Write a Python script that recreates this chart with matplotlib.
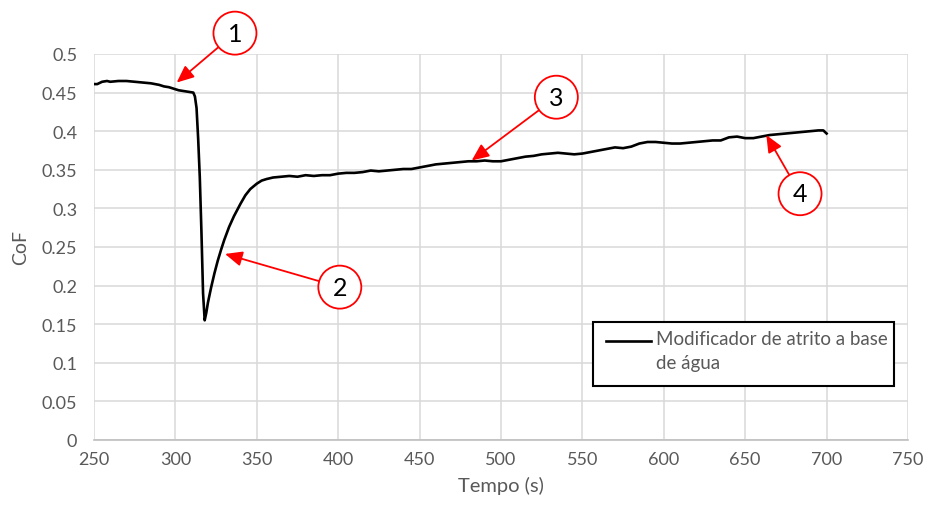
import matplotlib
matplotlib.use("Agg")
import matplotlib.pyplot as plt
from matplotlib.patches import Rectangle
from matplotlib.lines import Line2D

plt.rcParams['font.family'] = ['Lato', 'DejaVu Sans']

# Coefficient of friction over time
tempo = [250, 252, 255, 258, 260, 265, 270, 275, 280, 285, 290, 293, 296, 299,
         302, 305, 308, 311, 312, 313, 314, 315, 316, 317, 318, 319, 320, 322,
         324, 326, 328, 330, 333, 336, 340, 343, 346, 350, 353, 356, 360, 365,
         370, 375, 380, 385, 390, 395, 400, 405, 410, 415, 420, 425, 430, 435,
         440, 445, 450, 455, 460, 465, 470, 475, 480, 485, 490, 495, 500, 505,
         510, 515, 520, 525, 530, 535, 540, 545, 550, 555, 560, 565, 570, 575,
         580, 585, 590, 595, 600, 605, 610, 615, 620, 625, 630, 635, 640, 645,
         650, 655, 660, 665, 670, 675, 680, 685, 690, 695, 698, 700]
cof = [0.461, 0.461, 0.464, 0.465, 0.464, 0.465, 0.465, 0.464, 0.463, 0.462,
       0.460, 0.458, 0.457, 0.455, 0.453, 0.452, 0.451, 0.450, 0.445, 0.430,
       0.390, 0.340, 0.270, 0.190, 0.155, 0.165, 0.178, 0.198, 0.216, 0.232,
       0.246, 0.259, 0.276, 0.290, 0.306, 0.317, 0.325, 0.332, 0.336, 0.338,
       0.340, 0.341, 0.342, 0.341, 0.343, 0.342, 0.343, 0.343, 0.345, 0.346,
       0.346, 0.347, 0.349, 0.348, 0.349, 0.350, 0.351, 0.351, 0.353, 0.355,
       0.357, 0.358, 0.359, 0.360, 0.361, 0.361, 0.362, 0.361, 0.361, 0.363,
       0.365, 0.367, 0.368, 0.370, 0.371, 0.372, 0.371, 0.370, 0.371, 0.373,
       0.375, 0.377, 0.379, 0.378, 0.380, 0.384, 0.386, 0.386, 0.385, 0.384,
       0.384, 0.385, 0.386, 0.387, 0.388, 0.388, 0.392, 0.393, 0.391, 0.391,
       0.393, 0.395, 0.396, 0.397, 0.398, 0.399, 0.400, 0.401, 0.401, 0.397]

serie_label = "Modificador de atrito a base\nde água"

# Numbered callouts: label, circle centre, arrow tip (data units)
callout_labels = ["1", "2", "3", "4"]
callout_centres = [(336.6, 0.527), (401.0, 0.198), (534.0, 0.444), (683.7, 0.319)]
callout_tips = [(300.8, 0.463), (330.5, 0.241), (482.0, 0.362), (663.0, 0.395)]

xticks = list(range(250, 751, 50))
yticks = [0, 0.05, 0.1, 0.15, 0.2, 0.25, 0.3, 0.35, 0.4, 0.45, 0.5]
ytick_labels = ["0", "0.05", "0.1", "0.15", "0.2", "0.25", "0.3", "0.35", "0.4", "0.45", "0.5"]

grey_txt = "#595959"

fig = plt.figure(figsize=(9.25, 5.10), dpi=100)
ax = fig.add_axes([0.1016, 0.1353, 0.880, 0.7569])

ax.plot(tempo, cof, color="black", lw=1.9, zorder=3)

ax.set_xlim(250, 750)
ax.set_ylim(0, 0.5)
ax.set_xticks(xticks)
ax.set_yticks(yticks)
ax.set_yticklabels(ytick_labels)
ax.grid(True, color="#d9d9d9", lw=1.1, zorder=0)
ax.set_axisbelow(True)
for s in ["top", "right", "left"]:
    ax.spines[s].set_visible(False)
ax.spines["bottom"].set_color("#bfbfbf")
ax.spines["bottom"].set_linewidth(1.2)
ax.tick_params(length=0, labelsize=13, labelcolor=grey_txt)
ax.tick_params(axis="y", pad=12)
ax.tick_params(axis="x", pad=8)
ax.set_xlabel("Tempo (s)", fontsize=14.5, color=grey_txt, labelpad=6)
ax.set_ylabel("CoF", fontsize=14, color=grey_txt, labelpad=9)

for lab, c, tip in zip(callout_labels, callout_centres, callout_tips):
    ax.annotate(lab, xy=tip, xytext=c, ha="center", va="center",
                fontsize=18, color="black", annotation_clip=False, zorder=5,
                bbox=dict(boxstyle="circle,pad=0.4", fc="white", ec="red", lw=1.3),
                arrowprops=dict(arrowstyle="-|>,head_length=0.8,head_width=0.35",
                                color="red", lw=1.3, mutation_scale=13,
                                shrinkA=0, shrinkB=0))

# Legend box
x0, y0, x1, y1 = 593, 323, 894, 387
W, H = 925, 510
fig.patches.append(Rectangle((x0 / W, 1 - y1 / H), (x1 - x0) / W, (y1 - y0) / H,
                             transform=fig.transFigure, fc="white", ec="black",
                             lw=1.5, zorder=6))
fig.lines.append(Line2D([606 / W, 651 / W], [1 - 342 / H, 1 - 342 / H],
                        transform=fig.transFigure, color="black", lw=1.9, zorder=7))
fig.text(656 / W, 1 - 331 / H, serie_label, fontsize=13.5, color=grey_txt,
         ha="left", va="top", linespacing=1.5, zorder=7,
         transform=fig.transFigure)

fig.savefig("out.png", dpi=100)
